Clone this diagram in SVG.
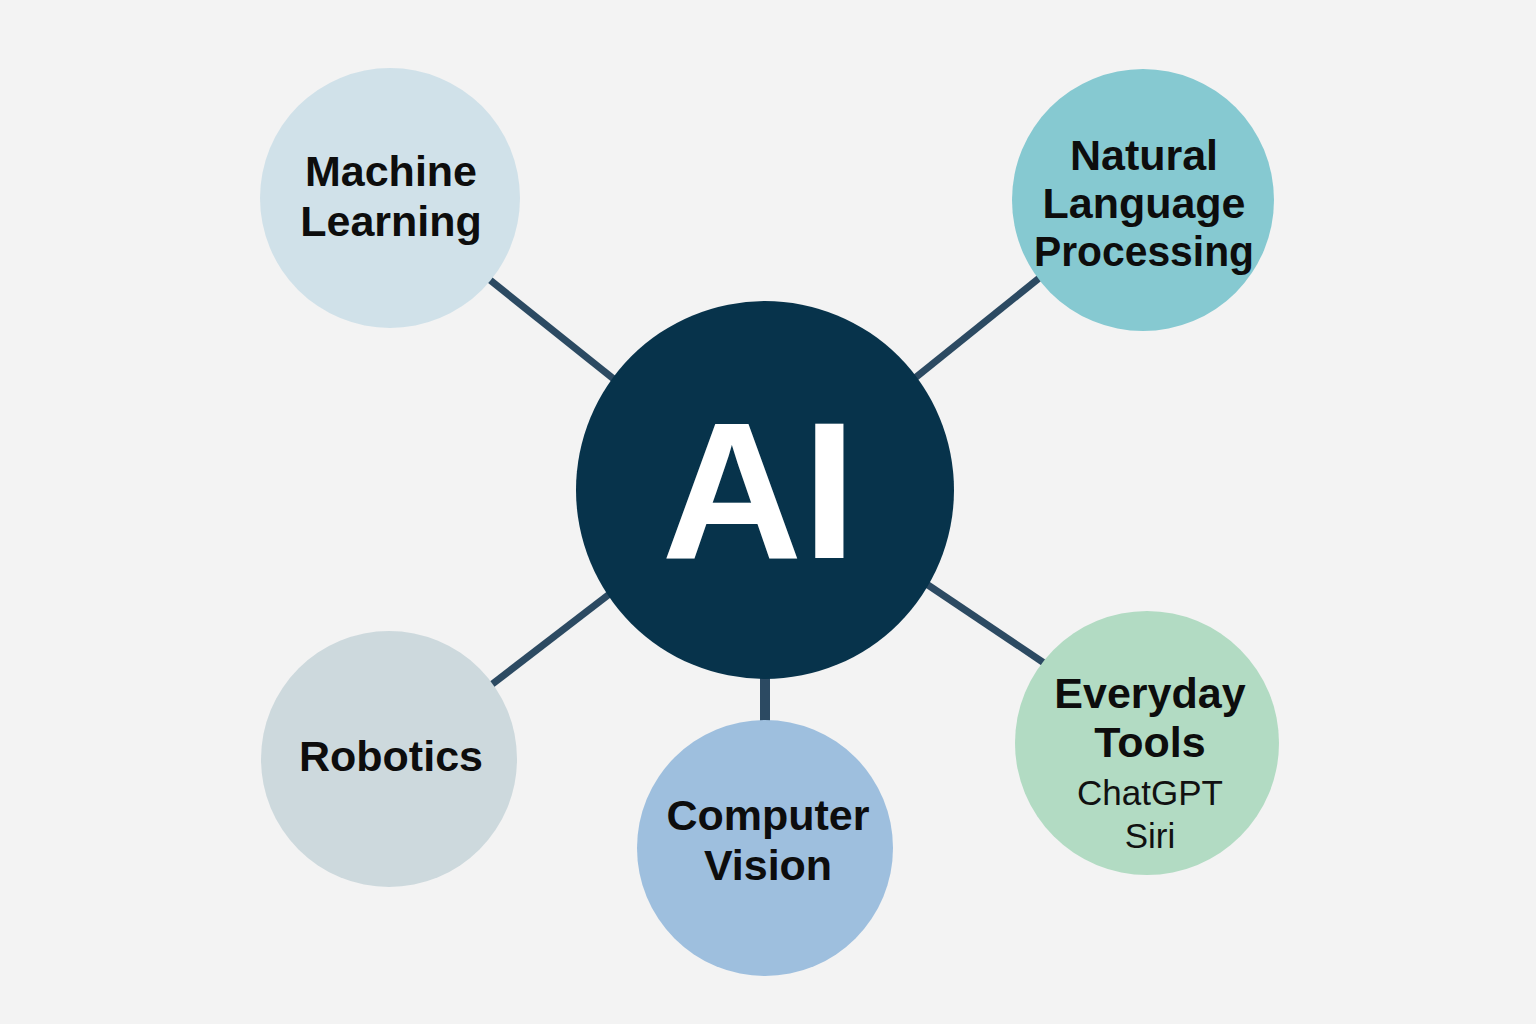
<svg xmlns="http://www.w3.org/2000/svg" width="1536" height="1024" viewBox="0 0 1536 1024">
<style>
.t{font-family:"Liberation Sans",Arial,sans-serif;font-weight:bold;font-size:43px;fill:#0d0d0d;text-anchor:middle}
.s{font-family:"Liberation Sans",Arial,sans-serif;font-size:35px;fill:#111;text-anchor:middle}
.c{stroke:#2c4a62;stroke-width:7;stroke-linecap:butt;fill:none}
</style>
<rect width="1536" height="1024" fill="#f3f3f3"/>
<g id="connectors">
<line class="c" x1="480" y1="272" x2="620" y2="384"/>
<line class="c" x1="1048" y1="271" x2="910" y2="382"/>
<line class="c" x1="482" y1="692" x2="616" y2="589"/>
<line class="c" x1="765" y1="676" x2="765" y2="724" style="stroke-width:10"/>
<line class="c" x1="922" y1="581" x2="1050" y2="667"/>
</g>
<g id="machine-learning">
<circle cx="390" cy="198" r="130" fill="#d0e1e9"/>
<text class="t" x="391" y="186">Machine</text>
<text class="t" x="391" y="236">Learning</text>
</g>
<g id="nlp">
<circle cx="1143" cy="200" r="131" fill="#86c9d1"/>
<text class="t" x="1144" y="170">Natural</text>
<text class="t" x="1144" y="218">Language</text>
<text class="t" x="1144" y="266" textLength="220" lengthAdjust="spacingAndGlyphs">Processing</text>
</g>
<g id="robotics">
<circle cx="389" cy="759" r="128" fill="#cdd9dd"/>
<text class="t" x="391" y="771">Robotics</text>
</g>
<g id="computer-vision">
<circle cx="765" cy="848" r="128" fill="#9ebfde"/>
<text class="t" x="768" y="830">Computer</text>
<text class="t" x="768" y="880">Vision</text>
</g>
<g id="everyday-tools">
<circle cx="1147" cy="743" r="132" fill="#b2dbc3"/>
<text class="t" x="1150" y="708">Everyday</text>
<text class="t" x="1150" y="757">Tools</text>
<text class="s" x="1150" y="805">ChatGPT</text>
<text class="s" x="1150" y="848">Siri</text>
</g>
<g id="ai">
<circle cx="765" cy="490" r="189" fill="#07334b"/>
<text x="759" y="558" font-family="'Liberation Sans',Arial,sans-serif" font-weight="bold" font-size="195" fill="#ffffff" text-anchor="middle">AI</text>
</g>
</svg>
